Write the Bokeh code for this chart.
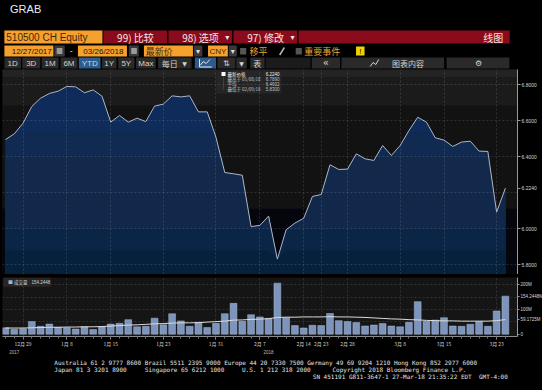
import numpy as np
from bokeh.plotting import figure
from bokeh.layouts import column
from bokeh.models import Range1d, FixedTicker, LinearAxis, PrintfTickFormatter
from bokeh.core.properties import value
from bokeh.embed import file_html
from bokeh.resources import INLINE

# ---------------- data ----------------
dates = ["2017-12-27", "2017-12-28", "2017-12-29",
         "2018-01-02", "2018-01-03", "2018-01-04", "2018-01-05",
         "2018-01-08", "2018-01-09", "2018-01-10", "2018-01-11", "2018-01-12",
         "2018-01-15", "2018-01-16", "2018-01-17", "2018-01-18", "2018-01-19",
         "2018-01-22", "2018-01-23", "2018-01-24", "2018-01-25", "2018-01-26",
         "2018-01-29", "2018-01-30", "2018-01-31", "2018-02-01", "2018-02-02",
         "2018-02-05", "2018-02-06", "2018-02-07", "2018-02-08", "2018-02-09",
         "2018-02-12", "2018-02-13", "2018-02-14", "2018-02-22", "2018-02-23",
         "2018-02-26", "2018-02-27", "2018-02-28", "2018-03-01", "2018-03-02",
         "2018-03-05", "2018-03-06", "2018-03-07", "2018-03-08", "2018-03-09",
         "2018-03-12", "2018-03-13", "2018-03-14", "2018-03-15", "2018-03-16",
         "2018-03-19", "2018-03-20", "2018-03-21", "2018-03-22", "2018-03-23",
         "2018-03-26"]

price = [6.494, 6.526, 6.585, 6.678, 6.724, 6.750, 6.763, 6.789, 6.787, 6.754,
         6.770, 6.735, 6.591, 6.628, 6.591, 6.613, 6.594, 6.680, 6.691, 6.737,
         6.731, 6.737, 6.648, 6.648, 6.507, 6.311, 6.304, 6.296, 6.011, 6.017,
         6.069, 5.830, 5.993, 6.030, 6.057, 6.178, 6.189, 6.354, 6.328, 6.330,
         6.415, 6.387, 6.378, 6.461, 6.406, 6.461, 6.544, 6.618, 6.591, 6.504,
         6.491, 6.456, 6.480, 6.485, 6.430, 6.428, 6.091, 6.224]

volume = [26, 20, 22, 51, 32, 41, 28, 26, 21, 30,
          19, 30, 41, 44, 59, 30, 32, 65, 38, 83,
          54, 32, 48, 27, 44, 83, 125, 52, 79, 70,
          64, 207, 67, 35, 25, 36, 35, 84, 55, 51,
          47, 33, 37, 43, 33, 30, 48, 132, 52, 57,
          67, 33, 32, 40, 51, 32, 94, 154.2448]

vol_ma = [25, 25, 25, 26, 27, 28, 28, 29, 29, 30,
          30, 31, 33, 35, 37, 38, 40, 42, 43, 45,
          46, 46, 47, 49, 51, 53, 57, 58, 60, 61,
          63, 68, 69, 69, 70, 70, 70, 71, 70, 70,
          69, 68, 66, 64, 62, 61, 59, 58, 56, 55,
          54, 54, 53, 53, 53, 53, 55, 59.1725]

tick_idx = [2, 7, 12, 18, 24, 29, 34, 36, 39, 45, 50, 56]
tick_labels = ["12月 29", "1月 8", "1月 15", "1月 23", "1月 31", "2月 7",
               "2月 14", "2月 23", "2月 28", "3月 8", "3月 15", "3月 23"]
year_idx = [1, 30]
year_labels = ["2017", "2018"]
price_ticks = [5.8, 6.0, 6.2, 6.4, 6.6, 6.8]
vol_ticks = [0, 50, 100, 150, 200]
vol_tick_labels = ["0", "50M", "100M", "150M", "200M"]

legend_names = ["最新价格", "最高于 01/08/18", "平均", "最低于 02/09/18"]
legend_vals = ["6.2240", "6.7890", "6.4602", "5.8300"]

idx = np.arange(len(price))
price_a = np.array(price)

W = 542
CJK = "Noto Sans CJK SC"
SANS = "Liberation Sans"
MONO = "DejaVu Sans Mono"


def bare(fig):
    fig.axis.visible = False
    fig.grid.visible = False
    fig.background_fill_color = "black"
    fig.border_fill_color = "black"
    fig.outline_line_color = None


def texts(fig, xs, ys, txt, size, color, align="left", font=CJK, baseline="middle"):
    fig.text(x=xs, y=ys, text=txt, text_font_size=size, text_color=color,
             text_align=align, text_baseline=baseline, text_font=value(font))


# ---------------- header ----------------
hdr = figure(width=W, height=69, x_range=Range1d(0, 542), y_range=Range1d(69, 0),
             toolbar_location=None, output_backend="svg", min_border=0)
bare(hdr)
ORANGE = "#f6a12e"
RED = "#8a0b1c"
GREY = "#3a3a3a"
BTN = "#2a2a2a"

texts(hdr, [8], [8.5], ["GRAB"], "11px", "#ececec", font=SANS)

# row 1
hdr.quad(left=[2], right=[106], top=[30], bottom=[43], fill_color=ORANGE, line_color=None)
hdr.quad(left=[107, 176, 245, 314], right=[174.5, 243.5, 312.5, 538],
         top=[30] * 4, bottom=[43] * 4, fill_color=RED, line_color=None)
texts(hdr, [4], [36.8], ["510500 CH Equity"], "10px", "#3a2810", font=SANS)
texts(hdr, [141, 210, 279], [36.8] * 3, ["99) 比较", "98) 选项", "97) 修改"], "10px", "#f3e4e4", align="center")
texts(hdr, [238.5, 307.5], [37] * 2, ["▾", "▾"], "8px", "#f3e4e4", align="center", font="DejaVu Sans")
texts(hdr, [531], [36.8], ["线图"], "10px", "#f3e4e4", align="right")

# row 2
hdr.quad(left=[2, 80, 150, 218], right=[54, 132, 202, 239], top=[45] * 4, bottom=[56] * 4,
         fill_color=ORANGE, line_color=None)
hdr.quad(left=[55, 134, 203, 240], right=[66, 144.5, 212, 248.5], top=[45] * 4, bottom=[56] * 4,
         fill_color=GREY, line_color=None)
hdr.quad(left=[57.5, 136.5], right=[63.5, 142.5], top=[47.5] * 2, bottom=[53.5] * 2,
         fill_color="#9a9a9a", line_color=None)
texts(hdr, [31, 107], [50.8] * 2, ["12/27/2017", "03/26/2018"], "8px", "#111111", align="center", font=SANS)
texts(hdr, [73], [50.5], ["-"], "9px", "#dddddd", align="center", font=SANS)
texts(hdr, [152], [50.8], ["最新价"], "9px", "#3a2810")
texts(hdr, [228.5], [50.8], ["CNY"], "8px", "#3a2810", align="center", font=SANS)
texts(hdr, [207.5, 244.3], [51] * 2, ["▾", "▾"], "8px", "#dddddd", align="center", font="DejaVu Sans")
hdr.quad(left=[252, 311], right=[258.5, 317.5], top=[47.5] * 2, bottom=[54] * 2,
         fill_color="#555555", line_color=None)
texts(hdr, [262, 320], [50.8] * 2, ["移平", "重要事件"], "9px", "#f0a030")
hdr.segment(x0=[294], y0=[54.5], x1=[299], y1=[47], line_color="#bbbbbb", line_width=1.5)
hdr.quad(left=[375], right=[384], top=[46], bottom=[55], fill_color="#f2d200", line_color=None)
texts(hdr, [379.5], [50.8], ["!"], "8px", "#111111", align="center", font=SANS)

# row 3
btn_l = [2, 21, 41.5, 61.5, 81, 105.5, 122.7, 141.7, 165, 228, 248, 262.7, 279, 328, 359.5, 471]
btn_r = [19.5, 40, 59.5, 79.5, 104, 121, 140, 162.5, 200.5, 247, 259, 278, 326.7, 358, 468.4, 537.6]
btn_c = [BTN] * 4 + ["#2d5d8f"] + [BTN] * 4 + [BTN, BTN, BTN, "#1b1b1b", BTN, BTN, BTN]
hdr.quad(left=btn_l, right=btn_r, top=[57] * 16, bottom=[68] * 16, fill_color=btn_c, line_color=None)
hdr.quad(left=[204], right=[226.5], top=[57], bottom=[68], fill_color="#2d5a8a", line_color=None)
texts(hdr, [10.7, 30.5, 50.5, 70.5, 92.5, 113.2, 131.3, 152.1], [62.8] * 8,
      ["1D", "3D", "1M", "6M", "YTD", "1Y", "5Y", "Max"], "8px", "#d2d2d2", align="center", font=SANS)
texts(hdr, [169], [62.6], ["每日"], "8px", "#d2d2d2")
texts(hdr, [193, 253.5], [62.8] * 2, ["▼", "▼"], "6px", "#d2d2d2", align="center", font="DejaVu Sans")
hdr.multi_line(xs=[[209, 209, 222], [210, 213, 216, 220]], ys=[[58.5, 66.5, 66.5], [64.5, 61, 63, 59]],
               line_color="#e8e8e8", line_width=1)
texts(hdr, [237.5], [62.8], ["⇅"], "8px", "#d2d2d2", align="center", font="DejaVu Sans")
texts(hdr, [270.3], [62.6], ["表"], "8px", "#d2d2d2", align="center")
texts(hdr, [343], [62.4], ["«"], "10px", "#d2d2d2", align="center", font="DejaVu Sans")
hdr.multi_line(xs=[[390, 393, 396, 399]], ys=[[66, 62, 64, 59]], line_color="#d2d2d2", line_width=1)
texts(hdr, [430], [62.6], ["图表内容"], "8px", "#d2d2d2", align="center")
texts(hdr, [505], [62.8], ["⚙"], "8px", "#d2d2d2", align="center", font="DejaVu Sans")


# ---------------- price panel ----------------
def pxi(x):   # reference pixel x -> bar index (for decorations)
    return (x - 5.0) / 8.77


def pyv(y):   # reference pixel y -> price (for decorations)
    return 6.8 - (y - 84.0) / 180.0


PX0, PX1 = pxi(2), pxi(517)
PY0, PY1 = pyv(274), pyv(69)

pp = figure(frame_width=515, frame_height=205, x_range=Range1d(PX0, PX1), y_range=Range1d(PY0, PY1),
            y_axis_location="right", toolbar_location=None, output_backend="svg",
            min_border_left=2, min_border_right=25, min_border_top=0, min_border_bottom=0)
pp.background_fill_color = "#121212"
pp.border_fill_color = "black"
pp.outline_line_color = None
pp.xaxis.visible = False

# background bands
bands_lo = [PY0 - 1, 6.111, 6.683, 6.84]
bands_hi = [6.111, 6.683, 6.84, PY1 + 1]
bands_col = ["#04050d", "#121212", "#1b1b1b", "#232323"]
pp.quad(left=PX0 - 1, right=PX1 + 1, bottom=bands_lo, top=bands_hi, fill_color=bands_col, line_color=None)

# area with horizontal shading bands
area_caps = [PY1 + 1, 6.533, 6.406, 6.2, 6.0, 5.878]
area_cols = ["#0f2b59", "#112a52", "#13294c", "#11284a", "#0b2546", "#05213c"]
for cap, col in zip(area_caps, area_cols):
    pp.varea(x=idx, y1=PY0, y2=np.minimum(price_a, cap), fill_color=col)
pp.line(idx, price_a, line_color="#aeb6c4", line_width=1)

for g, t in ((pp.xgrid, tick_idx), (pp.ygrid, price_ticks)):
    g.ticker = FixedTicker(ticks=t)
    g.grid_line_color = "#ffffff"
    g.grid_line_alpha = 0.13
    g.grid_line_dash = "2 2"
    g.level = "overlay"

# right axis: price ticks, with the last price shown in place of the tick it covers
p_axis_ticks = sorted([t for t in price_ticks if abs(t - price[-1]) > 0.05] + [price[-1]])
ya = pp.yaxis[0]
ya.ticker = FixedTicker(ticks=p_axis_ticks)
ya.formatter = PrintfTickFormatter(format="%.4f")
ya.major_label_text_font_size = "5px"
ya.major_label_text_color = "#d6d6d6"
ya.major_label_text_font = SANS
ya.axis_line_color = "#9a9a9a"
ya.major_tick_line_color = "#9a9a9a"
ya.major_tick_out = 3
ya.major_tick_in = 0
ya.minor_tick_line_color = None
ya.major_label_standoff = 1

# legend box
pp.quad(left=[pxi(216)], right=[pxi(281)], top=[pyv(70)], bottom=[pyv(93)],
        fill_color="#262626", line_color=None)
pp.quad(left=[pxi(221)], right=[pxi(225)], top=[pyv(71.5)], bottom=[pyv(75.5)],
        fill_color="#ffffff", line_color=None)
pp.segment(x0=[pxi(223)], y0=[pyv(76)], x1=[pxi(223)], y1=[pyv(89)],
           line_color="#888888", line_width=0.5, line_dash="1 1")
leg_y = [pyv(73.5), pyv(78.8), pyv(83.8), pyv(88.8)]
texts(pp, [pxi(227)] * 4, leg_y, legend_names, "4.5px", ["#f0f0f0", "#c0c0c0", "#c0c0c0", "#c0c0c0"])
texts(pp, [pxi(279)] * 4, leg_y, legend_vals, "4.5px", ["#f0f0f0", "#c0c0c0", "#c0c0c0", "#c0c0c0"],
      align="right", font=SANS)

# ---------------- separator ----------------
sep = figure(width=W, height=2, x_range=Range1d(0, 1), y_range=Range1d(0, 1),
             toolbar_location=None, output_backend="svg", min_border=0)
bare(sep)
sep.background_fill_color = "#7e7e7e"
sep.border_fill_color = "#7e7e7e"
sep.quad(left=[0], right=[1], bottom=[0], top=[1], fill_color="#7e7e7e", line_color=None)


# ---------------- volume panel ----------------
def vyv(y):   # reference pixel y -> volume (M) (for decorations)
    return (338.5 - y) / 26.75 * 100


vp = figure(frame_width=515, height=80, x_range=pp.x_range, y_range=Range1d(vyv(341), vyv(277)),
            y_axis_location="right", toolbar_location=None, output_backend="svg",
            min_border_left=2, min_border_right=25, min_border_top=1, min_border_bottom=15)
vp.background_fill_color = "#151515"
vp.border_fill_color = "black"
vp.outline_line_color = None

vp.vbar(x=idx, top=volume, bottom=0, width=0.78, fill_color="#7d95bc",
        line_color="#a7b8d4", line_width=0.5)
vp.line(idx, vol_ma, line_color="#dcdcdc", line_width=1)

for g, t in ((vp.xgrid, tick_idx), (vp.ygrid, vol_ticks[1:])):
    g.ticker = FixedTicker(ticks=t)
    g.grid_line_color = "#ffffff"
    g.grid_line_alpha = 0.12
    g.grid_line_dash = "2 2"

# right axis: volume ticks, with last volume and last average shown where they cover a tick
tags = [vol_ma[-1], volume[-1]]
v_axis = {t: l for t, l in zip(vol_ticks, vol_tick_labels) if min(abs(t - g) for g in tags) > 12}
for g in tags:
    v_axis[g] = f"{g:.4f}M"
vy = vp.yaxis[0]
vy.ticker = FixedTicker(ticks=sorted(v_axis))
vy.major_label_overrides = v_axis
vy.major_label_text_font_size = "4.5px"
vy.major_label_text_color = "#d6d6d6"
vy.major_label_text_font = SANS
vy.axis_line_color = "#9a9a9a"
vy.major_tick_line_color = "#9a9a9a"
vy.major_tick_out = 2
vy.major_tick_in = 0
vy.minor_tick_line_color = None
vy.major_label_standoff = 1

vx = vp.xaxis[0]
vx.ticker = FixedTicker(ticks=tick_idx, minor_ticks=list(idx))
vx.major_label_overrides = {t: l for t, l in zip(tick_idx, tick_labels)}
vx.major_label_text_font_size = "5px"
vx.major_label_text_color = "#cfcfcf"
vx.major_label_text_font = CJK
vx.axis_line_color = "#8c8c8c"
vx.major_tick_line_color = "#9a9a9a"
vx.major_tick_out = 3
vx.major_tick_in = 0
vx.minor_tick_line_color = "#777777"
vx.minor_tick_out = 2
vx.minor_tick_in = 0
vx.major_label_standoff = 0

year_axis = LinearAxis(ticker=FixedTicker(ticks=year_idx),
                       major_label_overrides={t: l for t, l in zip(year_idx, year_labels)},
                       axis_line_color=None, major_tick_line_color=None, minor_tick_line_color=None,
                       major_tick_out=0, major_tick_in=0, minor_tick_out=0, minor_tick_in=0,
                       major_label_text_font_size="4.5px", major_label_text_color="#bdbdbd",
                       major_label_text_font=SANS, major_label_standoff=0)
vp.add_layout(year_axis, "below")

# volume legend
vp.quad(left=[pxi(3)], right=[pxi(50)], top=[vyv(277)], bottom=[vyv(287)],
        fill_color="#262626", line_color=None)
vp.quad(left=[pxi(8)], right=[pxi(12)], top=[vyv(280)], bottom=[vyv(284)],
        fill_color="#9fb3d4", line_color=None)
texts(vp, [pxi(13.5)], [vyv(282)], ["成交量"], "4.5px", "#d0d0d0")
texts(vp, [pxi(31)], [vyv(282)], [f"{volume[-1]:.4f}"], "4.5px", "#d0d0d0", font=SANS)

# ---------------- footer ----------------
ftr = figure(width=W, height=34, x_range=Range1d(0, 542), y_range=Range1d(390, 356),
             toolbar_location=None, output_backend="svg", min_border=0)
bare(ftr)
FC = "#e4e4e4"
texts(ftr, [55], [361.5],
      ["Australia 61 2 9777 8600 Brazil 5511 2395 9000 Europe 44 20 7330 7500 Germany 49 69 9204 1210 Hong Kong 852 2977 6000"],
      "6px", FC, font=MONO)
texts(ftr, [55, 151, 254, 350], [368.5] * 4,
      ["Japan 81 3 3201 8900", "Singapore 65 6212 1000", "U.S. 1 212 318 2000",
       "Copyright 2018 Bloomberg Finance L.P."], "6px", FC, font=MONO)
texts(ftr, [536], [376], ["SN 451191 G811-3647-1 27-Mar-18 21:35:22 EDT\u00a0 GMT-4:00"], "6px", FC,
      align="right", font=MONO)

layout = column(hdr, pp, sep, vp, ftr, spacing=0)
layout.styles = {"background-color": "black"}

open("out.html", "w").write(file_html(layout, INLINE))
